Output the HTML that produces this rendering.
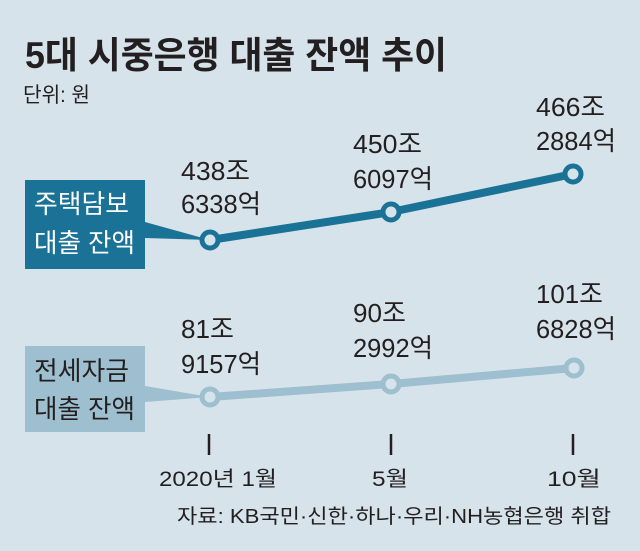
<!DOCTYPE html>
<html><head><meta charset="utf-8"><style>
html,body{margin:0;padding:0;background:#d7e3ea;}
svg{display:block;}
text{font-family:"Liberation Sans","Noto Sans CJK KR",sans-serif;fill:#231f20;}
</style></head><body>
<svg width="640" height="551" viewBox="0 0 640 551">
<rect width="640" height="551" fill="#d7e3ea"/>
<text x="25" y="68" font-size="37" font-weight="bold" textLength="422" lengthAdjust="spacingAndGlyphs">5대 시중은행 대출 잔액 추이</text>
<text x="23" y="102" font-size="21" textLength="67" lengthAdjust="spacingAndGlyphs">단위: 원</text>

<!-- boxes -->
<rect x="25" y="180" width="120" height="89" fill="#1a7396"/>
<polygon points="145,222 145,238 210,240" fill="#1a7396"/>
<text x="34" y="213" font-size="26" textLength="95" lengthAdjust="spacingAndGlyphs" style="fill:#fff">주택담보</text>
<text x="34" y="252" font-size="26" textLength="101" lengthAdjust="spacingAndGlyphs" style="fill:#fff">대출 잔액</text>

<rect x="25" y="346" width="120" height="86" fill="#9ebfcf"/>
<polygon points="145,386 145,402 210,397" fill="#9ebfcf"/>
<text x="34" y="380" font-size="26" textLength="95" lengthAdjust="spacingAndGlyphs">전세자금</text>
<text x="34" y="418" font-size="26" textLength="101" lengthAdjust="spacingAndGlyphs">대출 잔액</text>

<!-- lines -->
<polyline points="210,240 391,212 573,174" fill="none" stroke="#1a7396" stroke-width="8"/>
<polyline points="210,397 391,384 574,368" fill="none" stroke="#9ebfcf" stroke-width="8"/>
<g stroke-width="5">
<circle cx="210" cy="240" r="8" fill="#d7e3ea" stroke="#1a7396"/>
<circle cx="391" cy="212" r="8" fill="#d7e3ea" stroke="#1a7396"/>
<circle cx="573" cy="174" r="8" fill="#d7e3ea" stroke="#1a7396"/>
<circle cx="210" cy="397" r="8" fill="#d7e3ea" stroke="#9ebfcf"/>
<circle cx="391" cy="384" r="8" fill="#d7e3ea" stroke="#9ebfcf"/>
<circle cx="574" cy="368" r="8" fill="#d7e3ea" stroke="#9ebfcf"/>
</g>

<!-- values -->
<g font-size="26">
<text x="181" y="180" textLength="69" lengthAdjust="spacingAndGlyphs">438조</text>
<text x="181" y="213" textLength="80" lengthAdjust="spacingAndGlyphs">6338억</text>
<text x="353" y="153" textLength="69" lengthAdjust="spacingAndGlyphs">450조</text>
<text x="353" y="188" textLength="80" lengthAdjust="spacingAndGlyphs">6097억</text>
<text x="536" y="116" textLength="69" lengthAdjust="spacingAndGlyphs">466조</text>
<text x="536" y="150" textLength="80" lengthAdjust="spacingAndGlyphs">2884억</text>
<text x="181" y="338" textLength="53" lengthAdjust="spacingAndGlyphs">81조</text>
<text x="181" y="373" textLength="80" lengthAdjust="spacingAndGlyphs">9157억</text>
<text x="353" y="322" textLength="53" lengthAdjust="spacingAndGlyphs">90조</text>
<text x="353" y="357" textLength="80" lengthAdjust="spacingAndGlyphs">2992억</text>
<text x="536" y="303" textLength="67" lengthAdjust="spacingAndGlyphs">101조</text>
<text x="536" y="338" textLength="80" lengthAdjust="spacingAndGlyphs">6828억</text>
</g>

<!-- ticks -->
<g stroke="#231f20" stroke-width="2.5">
<line x1="209" y1="434" x2="209" y2="455"/>
<line x1="391" y1="434" x2="391" y2="455"/>
<line x1="573" y1="434" x2="573" y2="455"/>
</g>
<g font-size="21">
<text x="159" y="486" textLength="118" lengthAdjust="spacingAndGlyphs">2020년 1월</text>
<text x="372" y="486" textLength="36" lengthAdjust="spacingAndGlyphs">5월</text>
<text x="547" y="486" textLength="54" lengthAdjust="spacingAndGlyphs">10월</text>
</g>
<text x="177" y="523" font-size="20" textLength="434" lengthAdjust="spacingAndGlyphs">자료: KB국민·신한·하나·우리·NH농협은행 취합</text>
</svg>
</body></html>
